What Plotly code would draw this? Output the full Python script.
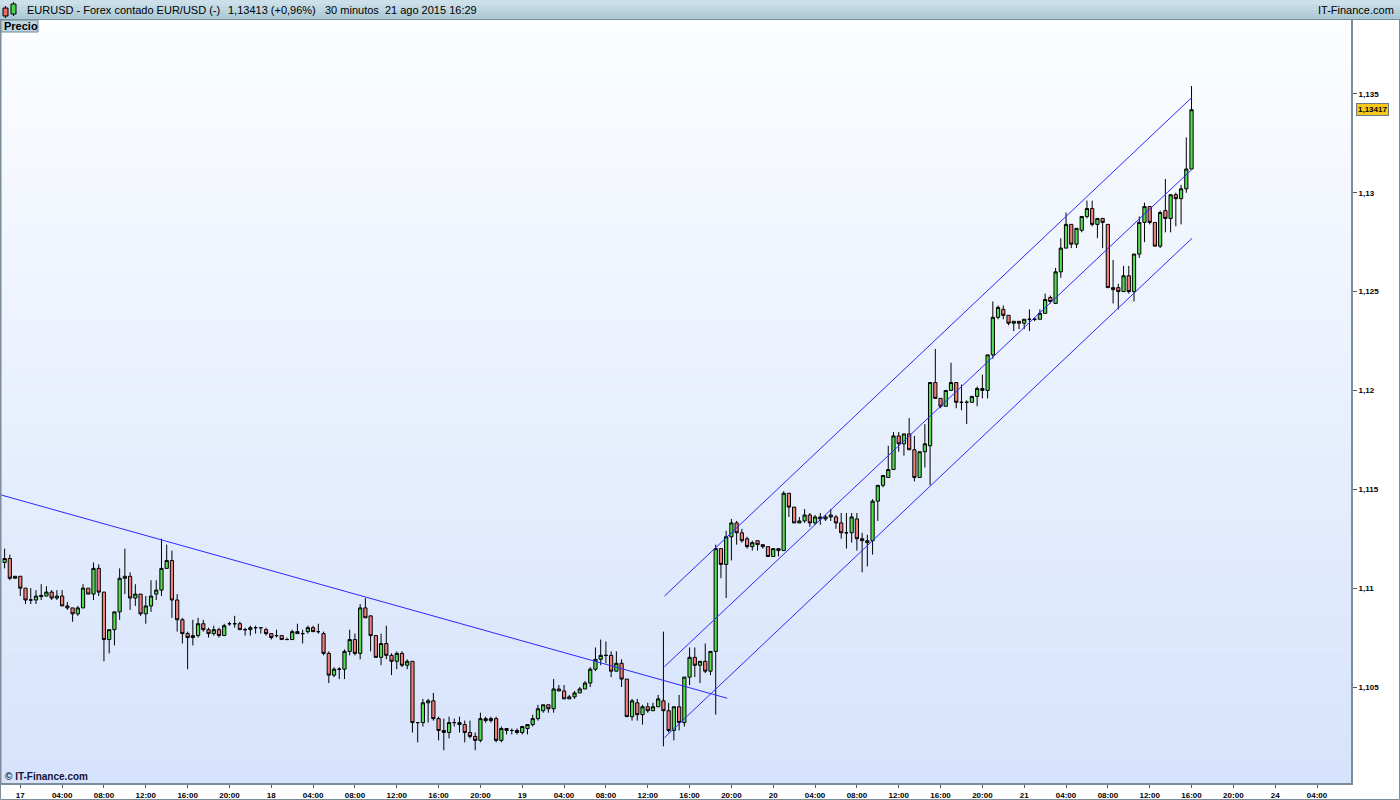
import plotly.graph_objects as go

# ---------------- data (30-minute EUR/USD candles, bar 0 = 17 Aug 00:00) ----------------
bar = list(range(-3, 225))

open_ = [
    1.1113, 1.1115, 1.1105, 1.1106, 1.1100, 1.1094, 1.1094, 1.10957, 1.1096, 1.1098,
    1.1095, 1.1096, 1.1091, 1.1090, 1.1087, 1.1090, 1.1100, 1.1097, 1.1110, 1.1098,
    1.1074, 1.1079, 1.1088, 1.1105, 1.1106, 1.1095, 1.1097, 1.1087, 1.1091, 1.1097,
    1.1099, 1.1110, 1.1114, 1.1094, 1.1084, 1.1077, 1.1075, 1.1076, 1.1082, 1.1079,
    1.1077, 1.1079, 1.1076, 1.1082, 1.1082, 1.1082, 1.1079, 1.1079, 1.1080, 1.1080,
    1.1079, 1.1077, 1.1076, 1.1076, 1.1074, 1.1074, 1.1078, 1.1077, 1.1078, 1.1080,
    1.1078, 1.1077, 1.1067, 1.1056, 1.1059, 1.1059, 1.1068, 1.1074, 1.1067, 1.1090,
    1.1086, 1.1076, 1.1065, 1.1072, 1.1066, 1.1063, 1.1067, 1.1061, 1.1063, 1.1032,
    1.1032, 1.1042, 1.1043, 1.1034, 1.1028, 1.1027, 1.1032, 1.1032, 1.1031, 1.1027,
    1.1025, 1.1023, 1.1034, 1.1033, 1.1034, 1.1023, 1.1029, 1.1028, 1.1028, 1.1027,
    1.1029, 1.1031, 1.1034, 1.1038, 1.1041, 1.1039, 1.1049, 1.1048, 1.1044, 1.1045,
    1.1047, 1.1049, 1.1052, 1.1059, 1.1064, 1.1066, 1.1066, 1.1058, 1.1062, 1.1054,
    1.1035, 1.1042, 1.1036, 1.1040, 1.1038, 1.1040, 1.1043, 1.1038, 1.1028, 1.1040,
    1.1032, 1.1055, 1.1065, 1.1061, 1.1063, 1.1058, 1.1068, 1.1120, 1.1112, 1.1126,
    1.1133, 1.1128, 1.1125, 1.1121, 1.1124, 1.1122, 1.1121, 1.1116, 1.1120, 1.1119,
    1.1148, 1.1141, 1.1133, 1.1134, 1.1137, 1.1133, 1.1136, 1.1135, 1.1136, 1.1136,
    1.1133, 1.1128, 1.1128, 1.1135, 1.1125, 1.1123, 1.1124, 1.1144, 1.1152, 1.1156,
    1.1160, 1.1177, 1.1173, 1.1178, 1.1170, 1.1156, 1.1169, 1.1172, 1.1204, 1.1196,
    1.1192, 1.1200, 1.1204, 1.1194, 1.1194, 1.1194, 1.1197, 1.1200, 1.1200, 1.1218,
    1.1237, 1.1241, 1.1238, 1.1234, 1.1235, 1.1234, 1.1236, 1.1236, 1.1236, 1.1239,
    1.1247, 1.1244, 1.1260, 1.1272, 1.1284, 1.1274, 1.1281, 1.1288, 1.1292, 1.1284,
    1.1287, 1.1284, 1.1252, 1.1252, 1.1250, 1.1258, 1.1250, 1.1269, 1.1285, 1.1293,
    1.1285, 1.1273, 1.1291, 1.1287, 1.1299, 1.1297, 1.1302, 1.1312,
]
high = [
    1.1120, 1.1117, 1.1106, 1.1106, 1.1100, 1.1100, 1.1099, 1.1102, 1.1101, 1.1099,
    1.1099, 1.1099, 1.1093, 1.1090, 1.1091, 1.1102, 1.1100, 1.1113, 1.1112, 1.1098,
    1.1079, 1.1088, 1.1110, 1.1120, 1.1108, 1.1102, 1.1097, 1.1096, 1.1104, 1.1104,
    1.1125, 1.1122, 1.1119, 1.1097, 1.1085, 1.1078, 1.1084, 1.1085, 1.1084, 1.1080,
    1.1081, 1.1080, 1.1082, 1.1083, 1.1086, 1.1083, 1.1080, 1.1081, 1.1081, 1.1080,
    1.1080, 1.1077, 1.1079, 1.1076, 1.1075, 1.1079, 1.1082, 1.1079, 1.1081, 1.1081,
    1.1082, 1.1078, 1.1068, 1.1060, 1.1060, 1.1069, 1.1079, 1.1077, 1.1092, 1.1095,
    1.1086, 1.1076, 1.1077, 1.1081, 1.1067, 1.1068, 1.1068, 1.1064, 1.1063, 1.1032,
    1.1044, 1.1044, 1.1047, 1.1035, 1.1034, 1.1035, 1.1034, 1.1035, 1.1033, 1.1033,
    1.1027, 1.1037, 1.1035, 1.1035, 1.1035, 1.1030, 1.1029, 1.1029, 1.1029, 1.1030,
    1.1031, 1.1036, 1.1041, 1.1041, 1.1041, 1.1054, 1.1051, 1.1051, 1.1046, 1.1048,
    1.1050, 1.1053, 1.1060, 1.1070, 1.1074, 1.1073, 1.1068, 1.1068, 1.1064, 1.1054,
    1.1044, 1.1044, 1.1041, 1.1042, 1.1042, 1.1046, 1.1078, 1.1042, 1.1040, 1.1046,
    1.1055, 1.1070, 1.1070, 1.1063, 1.1072, 1.1068, 1.1122, 1.1120, 1.1129, 1.1135,
    1.1134, 1.1130, 1.1126, 1.1124, 1.1124, 1.1122, 1.1121, 1.1120, 1.1120, 1.1149,
    1.1148, 1.1141, 1.1136, 1.1140, 1.1138, 1.1137, 1.1138, 1.1137, 1.1140, 1.1137,
    1.1138, 1.1138, 1.1138, 1.1138, 1.1128, 1.1127, 1.1145, 1.1152, 1.1157, 1.1172,
    1.1179, 1.1179, 1.1178, 1.1186, 1.1177, 1.1169, 1.1183, 1.1204, 1.1221, 1.1196,
    1.1200, 1.1214, 1.1204, 1.1203, 1.1195, 1.1197, 1.1202, 1.1208, 1.1218, 1.1245,
    1.1243, 1.1243, 1.1238, 1.1235, 1.1235, 1.1236, 1.1241, 1.1237, 1.1241, 1.1249,
    1.1248, 1.1262, 1.1277, 1.1290, 1.1284, 1.1282, 1.1288, 1.1296, 1.1296, 1.1287,
    1.1287, 1.1284, 1.1266, 1.1254, 1.1263, 1.1263, 1.1269, 1.1288, 1.1295, 1.1293,
    1.1285, 1.1291, 1.1307, 1.1299, 1.1300, 1.1304, 1.1328, 1.1354,
]
low = [
    1.1110, 1.1104, 1.1105, 1.1096, 1.1092, 1.1092, 1.1092, 1.1094, 1.1096, 1.1094,
    1.1094, 1.1091, 1.1089, 1.1083, 1.1086, 1.1090, 1.1097, 1.1094, 1.1096, 1.1063,
    1.1067, 1.1071, 1.1084, 1.1097, 1.1089, 1.1091, 1.1086, 1.1082, 1.1088, 1.1094,
    1.1096, 1.1110, 1.1085, 1.1078, 1.1072, 1.1059, 1.1071, 1.1075, 1.1078, 1.1075,
    1.1076, 1.1075, 1.1076, 1.1081, 1.1080, 1.1079, 1.1076, 1.1076, 1.1077, 1.1077,
    1.1076, 1.1074, 1.1075, 1.1074, 1.1074, 1.1074, 1.1077, 1.1072, 1.1077, 1.1078,
    1.1077, 1.1066, 1.1052, 1.1055, 1.1054, 1.1054, 1.1066, 1.1066, 1.1064, 1.1085,
    1.1068, 1.1065, 1.1061, 1.1064, 1.1056, 1.1059, 1.1060, 1.1059, 1.1027, 1.1022,
    1.1030, 1.1032, 1.1033, 1.1023, 1.1018, 1.1024, 1.1030, 1.1027, 1.1022, 1.1024,
    1.1018, 1.1022, 1.1032, 1.1032, 1.1022, 1.1022, 1.1026, 1.1026, 1.1026, 1.1026,
    1.1026, 1.1030, 1.1033, 1.1037, 1.1037, 1.1037, 1.1048, 1.1044, 1.1044, 1.1044,
    1.1047, 1.1049, 1.1050, 1.1058, 1.1061, 1.1062, 1.1055, 1.1058, 1.1050, 1.1035,
    1.1033, 1.1033, 1.1031, 1.1037, 1.1038, 1.1040, 1.1020, 1.1027, 1.1023, 1.1028,
    1.1030, 1.1051, 1.1055, 1.1052, 1.1057, 1.1056, 1.1036, 1.1105, 1.1095, 1.1114,
    1.1122, 1.1123, 1.1120, 1.1119, 1.1119, 1.1120, 1.1116, 1.1116, 1.1116, 1.1119,
    1.1136, 1.1133, 1.1133, 1.1133, 1.1131, 1.1132, 1.1132, 1.1134, 1.1134, 1.1130,
    1.1125, 1.1120, 1.1123, 1.1119, 1.1108, 1.1111, 1.1117, 1.1134, 1.1151, 1.1156,
    1.1160, 1.1169, 1.1167, 1.1170, 1.1154, 1.1156, 1.1161, 1.1152, 1.1196, 1.1191,
    1.1192, 1.1200, 1.1191, 1.1190, 1.1183, 1.1194, 1.1192, 1.1196, 1.1196, 1.1216,
    1.1236, 1.1236, 1.1233, 1.1230, 1.1231, 1.1231, 1.1230, 1.1235, 1.1236, 1.1239,
    1.1244, 1.1244, 1.1257, 1.1272, 1.1272, 1.1272, 1.1280, 1.1287, 1.1283, 1.1277,
    1.1272, 1.1252, 1.1244, 1.1241, 1.1250, 1.1249, 1.1245, 1.1267, 1.1275, 1.1284,
    1.1273, 1.1272, 1.1280, 1.1280, 1.1283, 1.1284, 1.1300, 1.1312,
]
close = [
    1.1115, 1.1105, 1.1106, 1.1100, 1.1094, 1.1094, 1.1096, 1.10963, 1.1098, 1.1095,
    1.1096, 1.1091, 1.1090, 1.1087, 1.1090, 1.1100, 1.1097, 1.1110, 1.1098, 1.1074,
    1.1079, 1.1088, 1.1105, 1.1106, 1.1095, 1.1097, 1.1087, 1.1091, 1.1096, 1.1099,
    1.1110, 1.1114, 1.1094, 1.1084, 1.1077, 1.1075, 1.1076, 1.1082, 1.1079, 1.1077,
    1.1079, 1.1076, 1.1081, 1.1082, 1.1082, 1.1079, 1.1079, 1.1080, 1.1080, 1.1080,
    1.1077, 1.1075, 1.1076, 1.1074, 1.1074, 1.1078, 1.1077, 1.1077, 1.1080, 1.1078,
    1.1078, 1.1067, 1.1056, 1.1059, 1.1059, 1.1068, 1.1074, 1.1067, 1.1090, 1.1085,
    1.1076, 1.1065, 1.1072, 1.1066, 1.1063, 1.1067, 1.1061, 1.1063, 1.1032, 1.1032,
    1.1042, 1.1043, 1.1034, 1.1028, 1.1027, 1.1032, 1.1032, 1.1031, 1.1027, 1.1025,
    1.1023, 1.1034, 1.1033, 1.1034, 1.1023, 1.1029, 1.1028, 1.1028, 1.1027, 1.1030,
    1.1031, 1.1034, 1.1039, 1.1041, 1.1039, 1.1049, 1.1048, 1.1044, 1.1045, 1.1047,
    1.1049, 1.1052, 1.1059, 1.1064, 1.1066, 1.1066, 1.1058, 1.1062, 1.1054, 1.1035,
    1.1043, 1.1036, 1.1040, 1.1038, 1.1040, 1.1044, 1.1038, 1.1028, 1.1040, 1.1032,
    1.1055, 1.1065, 1.1061, 1.1063, 1.1058, 1.1068, 1.1120, 1.1112, 1.1126, 1.1133,
    1.1128, 1.1124, 1.1121, 1.1123, 1.1122, 1.1121, 1.1116, 1.1120, 1.1119, 1.1148,
    1.1141, 1.1133, 1.1134, 1.1137, 1.1133, 1.1136, 1.1135, 1.1136, 1.1137, 1.1133,
    1.1128, 1.1128, 1.1136, 1.1125, 1.1124, 1.1124, 1.1144, 1.1152, 1.1157, 1.1160,
    1.1177, 1.1173, 1.1178, 1.1170, 1.1156, 1.1169, 1.1173, 1.1204, 1.1196, 1.1192,
    1.1200, 1.1204, 1.1194, 1.1194, 1.1194, 1.1197, 1.1201, 1.1201, 1.1218, 1.1237,
    1.1242, 1.1238, 1.1234, 1.1235, 1.1234, 1.1236, 1.1236, 1.1236, 1.1239, 1.1246,
    1.1245, 1.1260, 1.1272, 1.1284, 1.1274, 1.1282, 1.1288, 1.1292, 1.1284, 1.1287,
    1.1285, 1.1252, 1.1251, 1.1250, 1.1258, 1.1250, 1.1269, 1.1285, 1.1293, 1.1285,
    1.1273, 1.1290, 1.1287, 1.1299, 1.1297, 1.1302, 1.1312, 1.1342,
]

tick_bars = list(range(0, 249, 8))
tick_labels = [
    "17", "04:00", "08:00", "12:00", "16:00", "20:00",
    "18", "04:00", "08:00", "12:00", "16:00", "20:00",
    "19", "04:00", "08:00", "12:00", "16:00", "20:00",
    "20", "04:00", "08:00", "12:00", "16:00", "20:00",
    "21", "04:00", "08:00", "12:00", "16:00", "20:00",
    "24", "04:00",
]
price_ticks = [1.105, 1.11, 1.115, 1.12, 1.125, 1.13, 1.135]
price_tick_labels = ["1,105", "1,11", "1,115", "1,12", "1,125", "1,13", "1,135"]

downtrend_bars = [-3.9, 135.2]
downtrend_prices = [1.11473, 1.10443]
channel_bars = [123.2, 224.1]
channel_upper = [1.10960, 1.13483]
channel_middle = [1.10603, 1.13119]
channel_lower = [1.10244, 1.12770]

last_price_text = "1,13417"
header_name = "EURUSD - Forex contado EUR/USD (-)"
header_quote = "1,13413 (+0,96%)"
header_period = "30 minutos  21 ago 2015 16:29"

# ---------------- layout geometry ----------------
W, H = 1400, 800
ML, MR, MT, MB = 1, 49, 20, 17
PW, PH = W - ML - MR, H - MT - MB
PLOT_BOTTOM = H - MB


def fx(px):
    return (px - ML) / PW


def fy(py):
    return (H - MB - py) / PH


FONT = "Liberation Sans"
LINE_BLUE = "#2a2aff"

fig = go.Figure()

fig.add_trace(go.Candlestick(
    x=bar, open=open_, high=high, low=low, close=close,
    increasing=dict(fillcolor="#55dc55", line=dict(color="#000000", width=1)),
    decreasing=dict(fillcolor="#ee7f7b", line=dict(color="#000000", width=1)),
    whiskerwidth=0, hoverinfo="skip", showlegend=False,
))

fig.add_trace(go.Scatter(x=downtrend_bars, y=downtrend_prices, mode="lines",
                         line=dict(color=LINE_BLUE, width=1),
                         hoverinfo="skip", showlegend=False))
for ys in (channel_upper, channel_middle, channel_lower):
    fig.add_trace(go.Scatter(x=channel_bars, y=ys, mode="lines",
                             line=dict(color=LINE_BLUE, width=1),
                             hoverinfo="skip", showlegend=False))

shapes = []
# plot background vertical gradient
N = 80
top_c = (252, 253, 255)
bot_c = (214, 227, 252)
for k in range(N):
    t = (k + 0.5) / N
    c = tuple(round(top_c[j] + (bot_c[j] - top_c[j]) * t) for j in range(3))
    shapes.append(dict(type="rect", xref="paper", yref="paper", layer="below",
                       x0=0, x1=1, y0=1 - (k + 1) / N - 0.0005, y1=1 - k / N,
                       line=dict(width=0), fillcolor="rgb(%d,%d,%d)" % c))

# header bar gradient
HB = 6
h_top = (207, 226, 235)
h_bot = (168, 199, 213)
for k in range(HB):
    t = (k + 0.5) / HB
    c = tuple(round(h_top[j] + (h_bot[j] - h_top[j]) * t) for j in range(3))
    shapes.append(dict(type="rect", xref="paper", yref="paper",
                       x0=fx(0), x1=fx(W), y0=fy(k * 19 / HB + 19 / HB + 0.3), y1=fy(k * 19 / HB),
                       line=dict(width=0), fillcolor="rgb(%d,%d,%d)" % c))
shapes.append(dict(type="line", xref="paper", yref="paper",
                   x0=fx(0), x1=fx(W), y0=fy(19.5), y1=fy(19.5),
                   line=dict(color="#7d93a0", width=1)))
# header icon (mini candles)
shapes += [
    dict(type="line", xref="paper", yref="paper", x0=fx(5.5), x1=fx(5.5), y0=fy(18), y1=fy(6),
         line=dict(color="#000", width=1)),
    dict(type="rect", xref="paper", yref="paper", x0=fx(3), x1=fx(8), y0=fy(16), y1=fy(8),
         fillcolor="#eb6b67", line=dict(color="#000", width=1)),
    dict(type="line", xref="paper", yref="paper", x0=fx(13.5), x1=fx(13.5), y0=fy(16), y1=fy(2),
         line=dict(color="#000", width=1)),
    dict(type="rect", xref="paper", yref="paper", x0=fx(11), x1=fx(16), y0=fy(14), y1=fy(4),
         fillcolor="#4fd64f", line=dict(color="#000", width=1)),
]
# "Precio" tab
shapes.append(dict(type="rect", xref="paper", yref="paper",
                   x0=fx(0.5), x1=fx(38), y0=fy(32), y1=fy(20),
                   fillcolor="#bdd5e1", line=dict(color="#6e8896", width=1)))
# outer frame
shapes.append(dict(type="rect", xref="paper", yref="paper",
                   x0=fx(0.5), x1=fx(W - 0.5), y0=fy(H - 0.5), y1=fy(19.5),
                   line=dict(color="#7d8c99", width=1)))
shapes.append(dict(type="line", xref="paper", yref="paper",
                   x0=fx(0.5), x1=fx(0.5), y0=fy(PLOT_BOTTOM), y1=fy(20),
                   line=dict(color="#7d8c99", width=2)))

annotations = [
    dict(text=header_name, x=fx(25), y=fy(10), xref="paper", yref="paper",
         xanchor="left", yanchor="middle", showarrow=False,
         font=dict(family=FONT, size=11, color="#000")),
    dict(text=header_quote, x=fx(226), y=fy(10), xref="paper", yref="paper",
         xanchor="left", yanchor="middle", showarrow=False,
         font=dict(family=FONT, size=11, color="#000")),
    dict(text=header_period, x=fx(323), y=fy(10), xref="paper", yref="paper",
         xanchor="left", yanchor="middle", showarrow=False,
         font=dict(family=FONT, size=11, color="#000")),
    dict(text="IT-Finance.com", x=fx(1396), y=fy(10), xref="paper", yref="paper",
         xanchor="right", yanchor="middle", showarrow=False,
         font=dict(family=FONT, size=11, color="#000")),
    dict(text="Precio", x=fx(2), y=fy(26), xref="paper", yref="paper",
         xanchor="left", yanchor="middle", showarrow=False,
         font=dict(family=FONT, size=11, color="#000", weight="bold")),
    dict(text="© IT-Finance.com", x=fx(3), y=fy(776), xref="paper", yref="paper",
         xanchor="left", yanchor="middle", showarrow=False,
         font=dict(family=FONT, size=10, color="#14143c", weight="bold")),
    dict(text=last_price_text, x=fx(1356), y=close[-1], xref="paper", yref="y",
         xanchor="left", yanchor="middle", showarrow=False,
         bgcolor="#f7c81a", bordercolor="#6a7a88", borderwidth=1, borderpad=1,
         font=dict(family=FONT, size=8, color="#000", weight="bold")),
]

fig.update_layout(
    width=W, height=H,
    margin=dict(l=ML, r=MR, t=MT, b=MB, pad=0, autoexpand=False),
    paper_bgcolor="#ffffff", plot_bgcolor="#ffffff",
    showlegend=False, boxgap=0.12,
    shapes=shapes, annotations=annotations,
    xaxis=dict(
        range=[-3.69, 254.5], rangeslider=dict(visible=False), automargin=False,
        tickmode="array", tickvals=tick_bars, ticktext=tick_labels,
        ticks="outside", ticklen=3, tickcolor="#555", tickwidth=1,
        showgrid=False, zeroline=False,
        showline=True, linecolor="#7d8c99", linewidth=2,
        tickfont=dict(family=FONT, size=8, color="#000", weight="bold"),
        fixedrange=True,
    ),
    yaxis=dict(
        side="right", range=[1.100144, 1.138738], automargin=False,
        tickmode="array", tickvals=price_ticks, ticktext=price_tick_labels,
        ticks="outside", ticklen=4, tickcolor="#555", tickwidth=1,
        showgrid=False, zeroline=False,
        showline=True, linecolor="#7d8c99", linewidth=2,
        tickfont=dict(family=FONT, size=8, color="#000", weight="bold"),
        fixedrange=True,
    ),
)

fig.write_html(
    "out.html",
    config={"displayModeBar": False},
    post_script="document.body.style.margin='0';document.body.style.padding='0';"
                "document.documentElement.style.overflow='hidden';",
)
